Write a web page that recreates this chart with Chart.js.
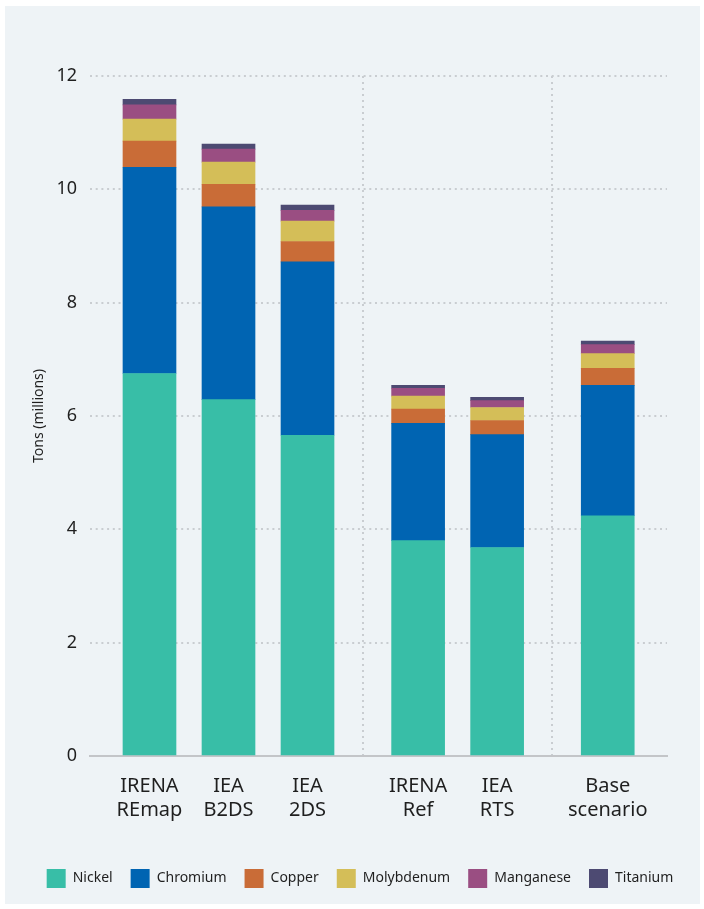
<!DOCTYPE html>
<html>
<head>
<meta charset="utf-8">
<script src="https://cdn.jsdelivr.net/npm/chart.js@4/dist/chart.umd.min.js"></script>
<style>
  html, body { margin: 0; padding: 0; background: #ffffff; }
  #painel { position: absolute; left: 5px; top: 6px; width: 695px; height: 898px; background: #eef3f6; }
  #wrap { position: absolute; left: 0; top: 0; width: 704px; height: 909px; }
</style>
</head>
<body>
<div id="painel"></div>
<div id="wrap"><canvas id="grafico" width="704" height="909"></canvas></div>
<script>
// cenários (rótulos do eixo x)
const cenarios = [["IRENA", "REmap"], ["IEA", "B2DS"], ["IEA", "2DS"], ["IRENA", "Ref"], ["IEA", "RTS"], ["Base", "scenario"]];

// valores em milhões de toneladas, por metal
const nickel     = [6.75, 6.29, 5.66, 3.80, 3.68, 4.24];
const chromium   = [3.64, 3.40, 3.06, 2.07, 1.99, 2.30];
const copper     = [0.46, 0.40, 0.36, 0.25, 0.25, 0.30];
const molybdenum = [0.39, 0.39, 0.36, 0.23, 0.23, 0.26];
const manganese  = [0.25, 0.23, 0.19, 0.14, 0.12, 0.16];
const titanium   = [0.10, 0.09, 0.09, 0.05, 0.06, 0.06];

const yTicks = [0, 2, 4, 6, 8, 10, 12];

// posição de cada grupo no eixo x (os grupos têm espaço extra entre si)
const posicoes = [0, 1, 2, 3.4, 4.4, 5.8];
const separadores = [2.7, 5.1];

const fonte = "'Noto Sans', sans-serif";
const corTexto = "#1f1f1f";

function serie(label, valores, cor) {
  return {
    label: label,
    data: valores.map((v, i) => ({ x: posicoes[i], y: v })),
    backgroundColor: cor,
    borderWidth: 0,
    barThickness: 53
  };
}

const ctx = document.getElementById("grafico").getContext("2d");

new Chart(ctx, {
  type: "bar",
  data: {
    datasets: [
      serie("Nickel", nickel, "#38bea7"),
      serie("Chromium", chromium, "#0064b2"),
      serie("Copper", copper, "#c96c37"),
      serie("Molybdenum", molybdenum, "#d4be58"),
      serie("Manganese", manganese, "#9a4e82"),
      serie("Titanium", titanium, "#4d4a72")
    ]
  },
  options: {
    responsive: false,
    animation: false,
    layout: { padding: { left: 16, right: 0, top: 76, bottom: 11 } },
    plugins: {
      tooltip: { enabled: false },
      legend: {
        position: "bottom",
        labels: {
          boxWidth: 19,
          boxHeight: 19,
          padding: 18,
          color: corTexto,
          font: { family: fonte, size: 14 }
        }
      }
    },
    scales: {
      x: {
        type: "linear",
        stacked: true,
        offset: false,
        min: -0.753,
        max: 6.55,
        afterBuildTicks: s => {
          s.ticks = posicoes.concat(separadores).sort((a, b) => a - b).map(v => ({ value: v }));
        },
        afterFit: s => { s.height = 95; },
        ticks: {
          autoSkip: false,
          maxRotation: 0,
          padding: 18,
          color: corTexto,
          font: { family: fonte, size: 20, lineHeight: 1.2 },
          callback: v => {
            const i = posicoes.indexOf(v);
            return i >= 0 ? cenarios[i] : "";
          }
        },
        grid: {
          offset: false,
          drawTicks: false,
          lineWidth: 2,
          color: c => separadores.includes(c.tick && c.tick.value) ? "#c9cdd1" : "rgba(0,0,0,0)"
        },
        border: { display: true, color: "#c3c5c8", width: 2, dash: [2, 4] }
      },
      y: {
        stacked: true,
        min: 0,
        max: 12,
        afterBuildTicks: s => { s.ticks = yTicks.map(v => ({ value: v })); },
        afterFit: s => { s.width = 74; },
        ticks: {
          padding: 13,
          color: corTexto,
          font: { family: fonte, size: 18 }
        },
        grid: {
          drawTicks: false,
          lineWidth: 2,
          color: c => (c.tick && c.tick.value === 0) ? "rgba(0,0,0,0)" : "#c9cdd1"
        },
        border: { display: false, dash: [2, 3.7] },
        title: {
          display: true,
          text: "Tons (millions)",
          color: corTexto,
          padding: { top: 14.6, bottom: 0 },
          font: { family: fonte, size: 14 }
        }
      },
      // eixo vazio à direita, só para reservar a margem
      margemDireita: {
        type: "linear",
        position: "right",
        display: true,
        grid: { display: false, drawTicks: false },
        border: { display: false },
        ticks: { display: false },
        afterFit: s => { s.width = 37; }
      }
    }
  }
});
</script>
</body>
</html>
